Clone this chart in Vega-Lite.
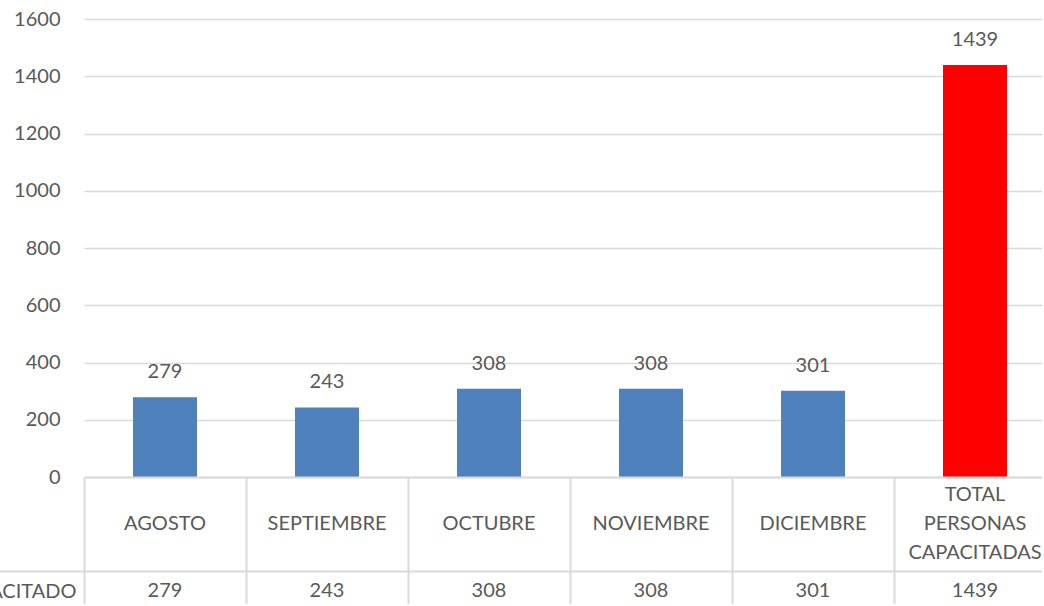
{
  "$schema": "https://vega.github.io/schema/vega-lite/v6.json",
  "padding": {"left": -50, "top": 9, "right": -14, "bottom": -8},
  "autosize": {"type": "pad"},
  "config": {"font": "Lato", "view": {"stroke": null}},
  "data": {"values": [
    {"mes": "AGOSTO", "valor": 279, "tipo": "mes", "serie": "CAPACITADO"},
    {"mes": "SEPTIEMBRE", "valor": 243, "tipo": "mes", "serie": "CAPACITADO"},
    {"mes": "OCTUBRE", "valor": 308, "tipo": "mes", "serie": "CAPACITADO"},
    {"mes": "NOVIEMBRE", "valor": 308, "tipo": "mes", "serie": "CAPACITADO"},
    {"mes": "DICIEMBRE", "valor": 301, "tipo": "mes", "serie": "CAPACITADO"},
    {"mes": "TOTAL PERSONAS CAPACITADAS", "valor": 1439, "tipo": "total", "serie": "CAPACITADO"}
  ]},
  "spacing": 0,
  "bounds": "flush",
  "vconcat": [
    {
      "width": 972,
      "height": 458,
      "encoding": {
        "x": {"field": "mes", "type": "nominal", "sort": null, "scale": {"paddingInner": 0, "paddingOuter": 0}, "axis": null},
        "y": {"field": "valor", "type": "quantitative", "scale": {"domain": [0, 1600]},
          "axis": {"values": [0, 200, 400, 600, 800, 1000, 1200, 1400, 1600], "format": "d", "title": null, "domain": false, "ticks": false,
            "labelPadding": 24, "labelFontSize": 20, "labelColor": "#595959", "labelFont": "Lato",
            "gridColor": "#d9d9d9", "gridWidth": 1.5}}
      },
      "layer": [
        {"mark": {"type": "bar", "width": {"band": 0.395}},
         "encoding": {"color": {"field": "tipo", "type": "nominal", "scale": {"domain": ["mes", "total"], "range": ["#4f81bd", "#ff0000"]}, "legend": null}}},
        {"mark": {"type": "text", "fontSize": 20, "color": "#595959", "baseline": "middle", "dy": -25, "font": "Lato"},
         "encoding": {"text": {"field": "valor", "type": "quantitative", "format": "d"}}}
      ]
    },
    {
      "width": 972,
      "height": 94,
      "mark": {"type": "text", "fontSize": 20, "color": "#595959", "lineBreak": " ", "lineHeight": 29, "baseline": "middle", "font": "Lato",
        "dy": {"expr": "datum.tipo == 'total' ? -29 : 0"}},
      "encoding": {
        "x": {"field": "mes", "type": "nominal", "sort": null, "scale": {"paddingInner": 0, "paddingOuter": 0},
          "axis": {"orient": "top", "grid": true, "tickBand": "extent", "gridColor": "#d9d9d9", "gridWidth": 2,
            "labels": false, "ticks": false, "domain": true, "domainColor": "#d9d9d9", "domainWidth": 2, "title": null}},
        "text": {"field": "mes", "type": "nominal"}
      }
    },
    {
      "width": 972,
      "height": 40,
      "mark": {"type": "text", "fontSize": 20, "color": "#595959", "baseline": "middle", "font": "Lato"},
      "encoding": {
        "x": {"field": "mes", "type": "nominal", "sort": null, "scale": {"paddingInner": 0, "paddingOuter": 0},
          "axis": {"orient": "top", "grid": true, "tickBand": "extent", "gridColor": "#d9d9d9", "gridWidth": 2,
            "labels": false, "ticks": false, "domain": true, "domainColor": "#d9d9d9", "domainWidth": 2, "title": null}},
        "y": {"field": "serie", "type": "nominal", "scale": {"type": "band", "paddingInner": 0, "paddingOuter": 0},
          "axis": {"title": null, "domain": false, "grid": false, "ticks": true, "tickBand": "extent", "tickSize": 90,
            "tickColor": "#d9d9d9", "tickWidth": 2, "labelPadding": -82, "labelFontSize": 20, "labelColor": "#595959",
            "labelFont": "Lato", "labelAlign": "right"}},
        "text": {"field": "valor", "type": "quantitative", "format": "d"}
      }
    }
  ]
}
